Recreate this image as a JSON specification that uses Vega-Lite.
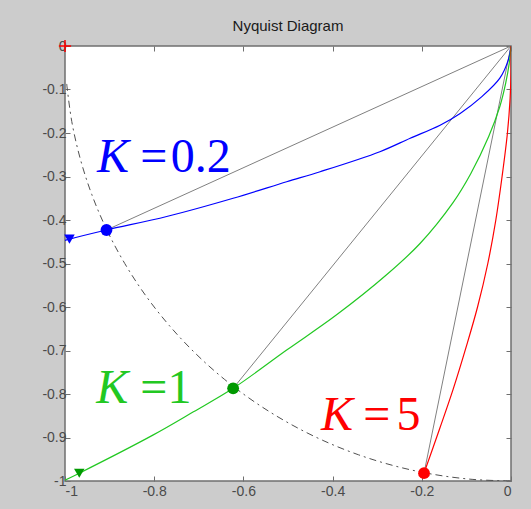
{
  "$schema": "https://vega.github.io/schema/vega-lite/v6.json",
  "autosize": {"type": "none"},
  "width": 446,
  "height": 435,
  "padding": {"left": 65, "top": 46, "right": 20, "bottom": 28},
  "background": "#cccccc",
  "title": {
    "text": "Nyquist Diagram",
    "font": "Liberation Sans",
    "fontSize": 15,
    "fontWeight": "normal",
    "color": "#1a1a1a",
    "anchor": "middle",
    "offset": 3
  },
  "config": {
    "view": {"stroke": "#6f6f6f", "strokeWidth": 1.5, "fill": "white"},
    "axis": {
      "grid": false,
      "domain": false,
      "tickSize": -5,
      "tickColor": "#6f6f6f",
      "tickWidth": 1,
      "labelFont": "Liberation Sans",
      "labelFontSize": 14,
      "labelColor": "#4a4a4a",
      "title": null
    }
  },
  "datasets": {
    "arc": [
      {"i": 0, "re": -0.9962, "im": -0.0872},
      {"i": 1, "re": -0.9848, "im": -0.1736},
      {"i": 2, "re": -0.9659, "im": -0.2588},
      {"i": 3, "re": -0.9397, "im": -0.342},
      {"i": 4, "re": -0.9063, "im": -0.4226},
      {"i": 5, "re": -0.866, "im": -0.5},
      {"i": 6, "re": -0.8192, "im": -0.5736},
      {"i": 7, "re": -0.766, "im": -0.6428},
      {"i": 8, "re": -0.7071, "im": -0.7071},
      {"i": 9, "re": -0.6428, "im": -0.766},
      {"i": 10, "re": -0.5736, "im": -0.8192},
      {"i": 11, "re": -0.5, "im": -0.866},
      {"i": 12, "re": -0.4226, "im": -0.9063},
      {"i": 13, "re": -0.342, "im": -0.9397},
      {"i": 14, "re": -0.2588, "im": -0.9659},
      {"i": 15, "re": -0.1736, "im": -0.9848},
      {"i": 16, "re": -0.0872, "im": -0.9962},
      {"i": 17, "re": 0, "im": -1}
    ],
    "curves": [
      {"series": "K=0.2", "i": 0, "re": -1.0, "im": -0.447},
      {"series": "K=0.2", "i": 1, "re": -0.99, "im": -0.444},
      {"series": "K=0.2", "i": 2, "re": -0.907, "im": -0.423},
      {"series": "K=0.2", "i": 3, "re": -0.772, "im": -0.392},
      {"series": "K=0.2", "i": 4, "re": -0.623, "im": -0.35},
      {"series": "K=0.2", "i": 5, "re": -0.503, "im": -0.312},
      {"series": "K=0.2", "i": 6, "re": -0.428, "im": -0.289},
      {"series": "K=0.2", "i": 7, "re": -0.294, "im": -0.243},
      {"series": "K=0.2", "i": 8, "re": -0.226, "im": -0.212},
      {"series": "K=0.2", "i": 9, "re": -0.159, "im": -0.182},
      {"series": "K=0.2", "i": 10, "re": -0.114, "im": -0.155},
      {"series": "K=0.2", "i": 11, "re": -0.066, "im": -0.117},
      {"series": "K=0.2", "i": 12, "re": -0.025, "im": -0.074},
      {"series": "K=0.2", "i": 13, "re": -0.006, "im": -0.032},
      {"series": "K=0.2", "i": 14, "re": 0, "im": 0},
      {"series": "K=1", "i": 0, "re": -1.0, "im": -0.998},
      {"series": "K=1", "i": 1, "re": -0.968, "im": -0.982},
      {"series": "K=1", "i": 2, "re": -0.802, "im": -0.894},
      {"series": "K=1", "i": 3, "re": -0.712, "im": -0.841},
      {"series": "K=1", "i": 4, "re": -0.623, "im": -0.787},
      {"series": "K=1", "i": 5, "re": -0.503, "im": -0.699},
      {"series": "K=1", "i": 6, "re": -0.391, "im": -0.618},
      {"series": "K=1", "i": 7, "re": -0.279, "im": -0.526},
      {"series": "K=1", "i": 8, "re": -0.204, "im": -0.454},
      {"series": "K=1", "i": 9, "re": -0.13, "im": -0.36},
      {"series": "K=1", "i": 10, "re": -0.09, "im": -0.293},
      {"series": "K=1", "i": 11, "re": -0.05, "im": -0.208},
      {"series": "K=1", "i": 12, "re": -0.025, "im": -0.139},
      {"series": "K=1", "i": 13, "re": -0.012, "im": -0.086},
      {"series": "K=1", "i": 14, "re": -0.004, "im": -0.04},
      {"series": "K=1", "i": 15, "re": 0, "im": 0},
      {"series": "K=5", "i": 0, "re": -0.195, "im": -0.982},
      {"series": "K=5", "i": 1, "re": -0.16, "im": -0.88},
      {"series": "K=5", "i": 2, "re": -0.13, "im": -0.79},
      {"series": "K=5", "i": 3, "re": -0.1, "im": -0.69},
      {"series": "K=5", "i": 4, "re": -0.075, "im": -0.6},
      {"series": "K=5", "i": 5, "re": -0.052, "im": -0.5},
      {"series": "K=5", "i": 6, "re": -0.034, "im": -0.4},
      {"series": "K=5", "i": 7, "re": -0.02, "im": -0.3},
      {"series": "K=5", "i": 8, "re": -0.008, "im": -0.2},
      {"series": "K=5", "i": 9, "re": -0.002, "im": -0.12},
      {"series": "K=5", "i": 10, "re": 0, "im": -0.06},
      {"series": "K=5", "i": 11, "re": 0, "im": 0}
    ],
    "crossings": [
      {"series": "K=0.2", "re": -0.907, "im": -0.423},
      {"series": "K=1", "re": -0.623, "im": -0.787},
      {"series": "K=5", "re": -0.195, "im": -0.982}
    ],
    "starts": [
      {"series": "K=0.2", "re": -0.99, "im": -0.444},
      {"series": "K=1", "re": -0.968, "im": -0.982}
    ],
    "critical": [
      {"re": -1, "im": 0}
    ],
    "labels": [
      {"series": "K=0.2", "part": "K", "re": -0.928, "im": -0.289},
      {"series": "K=0.2", "part": "=", "re": -0.831, "im": -0.289},
      {"series": "K=0.2", "part": "0.2", "re": -0.763, "im": -0.289},
      {"series": "K=1", "part": "K", "re": -0.93, "im": -0.821},
      {"series": "K=1", "part": "=", "re": -0.831, "im": -0.821},
      {"series": "K=1", "part": "1", "re": -0.77, "im": -0.821},
      {"series": "K=5", "part": "K", "re": -0.426, "im": -0.883},
      {"series": "K=5", "part": "=", "re": -0.331, "im": -0.883},
      {"series": "K=5", "part": "5", "re": -0.257, "im": -0.883}
    ]
  },
  "resolve": {"axis": {"x": "independent", "y": "independent"}},
  "layer": [
    {
      "data": {"name": "arc"},
      "mark": {"type": "line", "stroke": "#505050", "strokeWidth": 1, "strokeDash": [7, 4, 2, 4], "interpolate": "catmull-rom", "clip": true},
      "encoding": {
        "x": {
          "field": "re", "type": "quantitative",
          "scale": {"domain": [-1, 0], "nice": false, "zero": false},
          "axis": {"orient": "bottom", "values": [-1, -0.8, -0.6, -0.4, -0.2, 0], "labelPadding": 8, "labelExpr": "'' + datum.value"}
        },
        "y": {
          "field": "im", "type": "quantitative",
          "scale": {"domain": [-1, 0], "nice": false, "zero": false},
          "axis": {"orient": "left", "values": [-1, -0.9, -0.8, -0.7, -0.6, -0.5, -0.4, -0.3, -0.2, -0.1, 0], "labelPadding": 4, "labelExpr": "'' + datum.value"}
        },
        "order": {"field": "i", "type": "quantitative"}
      }
    },
    {
      "data": {"name": "crossings"},
      "mark": {"type": "rule", "stroke": "#808080", "strokeWidth": 1},
      "encoding": {
        "x": {"field": "re", "type": "quantitative", "axis": null},
        "y": {"field": "im", "type": "quantitative", "axis": null},
        "x2": {"datum": 0},
        "y2": {"datum": 0}
      }
    },
    {
      "data": {"name": "curves"},
      "mark": {"type": "line", "strokeWidth": 1.2, "interpolate": "catmull-rom", "clip": true},
      "encoding": {
        "x": {"field": "re", "type": "quantitative", "axis": null},
        "y": {"field": "im", "type": "quantitative", "axis": null},
        "order": {"field": "i", "type": "quantitative"},
        "color": {
          "field": "series", "type": "nominal", "legend": null,
          "scale": {"domain": ["K=0.2", "K=1", "K=5"], "range": ["#0000ff", "#22c822", "#ff0000"]}
        }
      }
    },
    {
      "data": {"name": "crossings"},
      "mark": {"type": "point", "shape": "circle", "filled": true, "opacity": 1, "size": 140},
      "encoding": {
        "x": {"field": "re", "type": "quantitative", "axis": null},
        "y": {"field": "im", "type": "quantitative", "axis": null},
        "fill": {
          "field": "series", "type": "nominal", "legend": null,
          "scale": {"domain": ["K=0.2", "K=1", "K=5"], "range": ["#0000ff", "#009900", "#ff0000"]}
        }
      }
    },
    {
      "data": {"name": "starts"},
      "mark": {"type": "point", "shape": "triangle-down", "filled": true, "opacity": 1, "size": 110},
      "encoding": {
        "x": {"field": "re", "type": "quantitative", "axis": null},
        "y": {"field": "im", "type": "quantitative", "axis": null},
        "fill": {
          "field": "series", "type": "nominal", "legend": null,
          "scale": {"domain": ["K=0.2", "K=1", "K=5"], "range": ["#0000ff", "#009900", "#ff0000"]}
        }
      }
    },
    {
      "data": {"name": "critical"},
      "mark": {"type": "point", "shape": "M-1,0H1M0,-1V1", "filled": false, "stroke": "#ff0000", "strokeWidth": 1.5, "opacity": 1, "size": 150, "clip": false},
      "encoding": {
        "x": {
          "field": "re", "type": "quantitative",
          "axis": {"orient": "top", "values": [-1, -0.8, -0.6, -0.4, -0.2, 0], "labels": false}
        },
        "y": {
          "field": "im", "type": "quantitative",
          "axis": {"orient": "right", "values": [-1, -0.9, -0.8, -0.7, -0.6, -0.5, -0.4, -0.3, -0.2, -0.1, 0], "labels": false}
        }
      }
    },
    {
      "data": {"name": "labels"},
      "transform": [{"filter": "datum.part === 'K'"}],
      "mark": {"type": "text", "font": "Liberation Serif", "fontSize": 48, "fontStyle": "italic", "align": "left", "baseline": "alphabetic"},
      "encoding": {
        "x": {"field": "re", "type": "quantitative", "axis": null},
        "y": {"field": "im", "type": "quantitative", "axis": null},
        "text": {"field": "part"},
        "color": {
          "field": "series", "type": "nominal", "legend": null,
          "scale": {"domain": ["K=0.2", "K=1", "K=5"], "range": ["#0000ff", "#11ee11", "#ff0000"]}
        }
      }
    },
    {
      "data": {"name": "labels"},
      "transform": [{"filter": "datum.part !== 'K'"}],
      "mark": {"type": "text", "font": "Liberation Serif", "fontSize": 48, "align": "left", "baseline": "alphabetic"},
      "encoding": {
        "x": {"field": "re", "type": "quantitative", "axis": null},
        "y": {"field": "im", "type": "quantitative", "axis": null},
        "text": {"field": "part"},
        "color": {
          "field": "series", "type": "nominal", "legend": null,
          "scale": {"domain": ["K=0.2", "K=1", "K=5"], "range": ["#0000ff", "#11ee11", "#ff0000"]}
        }
      }
    }
  ]
}
